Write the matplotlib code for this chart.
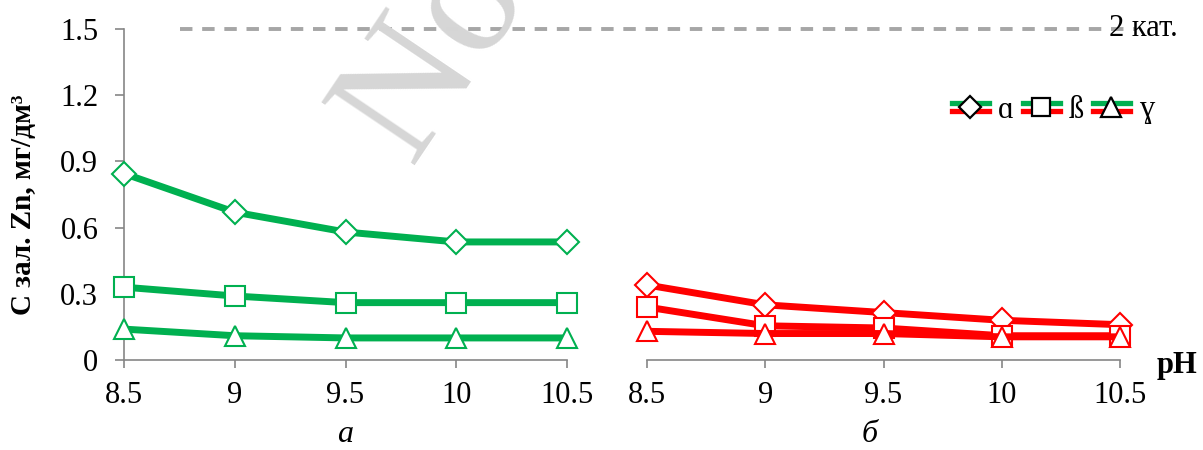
import matplotlib
matplotlib.use("Agg")
import matplotlib.pyplot as plt
from matplotlib.lines import Line2D
from matplotlib.legend_handler import HandlerBase
from matplotlib.transforms import blended_transform_factory

# ---- data ----
ph = [8.5, 9, 9.5, 10, 10.5]
ph_labels = ["8.5", "9", "9.5", "10", "10.5"]
a_alpha = [0.845, 0.67, 0.58, 0.535, 0.535]
a_beta = [0.33, 0.29, 0.26, 0.26, 0.26]
a_gamma = [0.14, 0.11, 0.10, 0.10, 0.10]
b_alpha = [0.34, 0.25, 0.215, 0.18, 0.16]
b_beta = [0.24, 0.155, 0.145, 0.11, 0.11]
b_gamma = [0.13, 0.12, 0.12, 0.105, 0.105]
y_ticks = [0, 0.3, 0.6, 0.9, 1.2, 1.5]
y_tick_labels = ["0", "0.3", "0.6", "0.9", "1.2", "1.5"]
limit_value = 1.5
limit_label = "2 кат."
series_names = ["ɑ", "ß", "ɣ"]
series_markers = ["D", "s", "^"]
panel_labels = ["а", "б"]

GREEN = "#00B050"
RED = "#FF0000"
GREY = "#868686"
SERIF = ["Liberation Serif", "DejaVu Serif"]
plt.rcParams["font.family"] = SERIF
FS = 22

fig = plt.figure(figsize=(12.03, 4.5), dpi=100)

# watermark
fig.text(410 / 1203, 1 - 165 / 450, "No", fontsize=124, color="#D6D6D6",
         rotation=56, rotation_mode="anchor", ha="left", va="baseline",
         family=SERIF, zorder=0)

ax1 = fig.add_axes([124 / 1203, 90 / 450, (567 - 124) / 1203, (360 - 29) / 450])
ax2 = fig.add_axes([647 / 1203, 90 / 450, (1120 - 647) / 1203, (360 - 29) / 450])
for ax in (ax1, ax2):
    ax.patch.set_alpha(0)

ms = {"D": 12.5, "s": 14.5, "^": 15}

def draw(ax, series, color):
    for vals, mk in zip(series, series_markers):
        ax.plot(ph, vals, color=color, lw=5, marker=mk, ms=ms[mk],
                mfc="white", mec=color, mew=1.5, clip_on=False, zorder=3)

draw(ax1, [a_alpha, a_beta, a_gamma], GREEN)
draw(ax2, [b_alpha, b_beta, b_gamma], RED)

for ax in (ax1, ax2):
    ax.set_xlim(8.5, 10.5)
    ax.set_ylim(0, 1.5)
    ax.set_xticks(ph)
    ax.set_xticklabels(ph_labels)
    for s in ("top", "right"):
        ax.spines[s].set_visible(False)
    ax.spines["bottom"].set_color(GREY)
    ax.spines["bottom"].set_linewidth(1.2)
    ax.tick_params(axis="x", direction="out", length=6, width=1.2, color=GREY,
                   labelsize=FS, pad=9)

ax1.spines["left"].set_color(GREY)
ax1.spines["left"].set_linewidth(1.2)
ax1.set_yticks(y_ticks)
ax1.set_yticklabels(y_tick_labels)
ax1.tick_params(axis="y", direction="out", length=6.5, width=1.2, color=GREY,
                labelsize=FS, pad=12)
ax2.spines["left"].set_visible(False)
ax2.set_yticks([])

# limit line across the figure
tr = blended_transform_factory(fig.transFigure, ax1.transData)
ax1.plot([180 / 1203, 1135 / 1203], [limit_value, limit_value], transform=tr,
         color="#A6A6A6", lw=2.8, ls=(0, (3.2, 2.5)), clip_on=False, zorder=1)
fig.text(1143 / 1203, 1 - 28 / 450, limit_label, fontsize=FS, ha="center",
         va="center", zorder=4)

# axis labels
fig.text(24 / 1203, 1 - 205 / 450, "С зал. Zn, мг/дм³", rotation=90,
         fontsize=21, fontweight="bold", ha="center", va="center")
fig.text(1177 / 1203, 1 - 366 / 450, "pH", fontsize=FS, fontweight="bold",
         ha="center", va="center")
fig.text(345 / 1203, 1 - 435 / 450, panel_labels[0], fontsize=23,
         style="italic", ha="center", va="center")
fig.text(870 / 1203, 1 - 435 / 450, panel_labels[1], fontsize=23,
         style="italic", ha="center", va="center")


class DualLineHandler(HandlerBase):
    def create_artists(self, legend, orig_handle, xdescent, ydescent, width,
                       height, fontsize, trans):
        yc = height / 2 - ydescent
        off = height * 0.2
        x0, x1 = -xdescent, width - xdescent
        l1 = Line2D([x0, x1], [yc + off] * 2, color=GREEN, lw=3.8)
        l2 = Line2D([x0, x1], [yc - off] * 2, color=RED, lw=3.8)
        mk = orig_handle.get_marker()
        m = Line2D([(x0 + x1) / 2], [yc], marker=mk, ls="none",
                   ms={"D": 11, "s": 13, "^": 14}[mk], mfc="white",
                   mec="black", mew=1.6)
        for a in (l1, l2, m):
            a.set_transform(trans)
        return [l1, l2, m]


handles = [Line2D([], [], marker=mk) for mk in series_markers]
leg = fig.legend(handles, series_names, loc="center left",
                 bbox_to_anchor=(952 / 1203, 1 - 110 / 450), ncol=3,
                 frameon=False, fontsize=FS, handlelength=1.2,
                 handletextpad=0.3, columnspacing=0.3, borderpad=0,
                 borderaxespad=0, handler_map={Line2D: DualLineHandler()})

fig.savefig("out.png", dpi=100)
